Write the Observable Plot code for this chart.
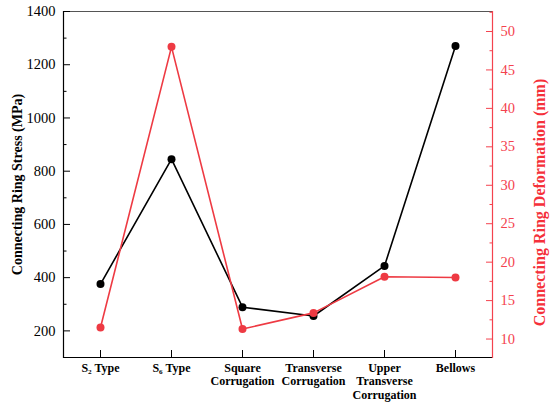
<!DOCTYPE html>
<html><head><meta charset="utf-8">
<script src="https://cdn.jsdelivr.net/npm/d3@7"></script>
<script src="https://cdn.jsdelivr.net/npm/@observablehq/plot@0.6"></script>
<style>body{margin:0;background:#fff}</style>
</head><body><div id="chart"></div>
<script>
const categories = ["S2 Type","S6 Type","Square Corrugation","Transverse Corrugation","Upper Transverse Corrugation","Bellows"];
const categoryLabels = ["S\u2082 Type","S\u2086 Type","Square\nCorrugation","Transverse\nCorrugation","Upper\nTransverse\nCorrugation","Bellows"];
const stress = [376, 845, 289, 256, 444, 1270];
const deformation = [11.5, 48.0, 11.3, 13.4, 18.1, 18.0];
const stressTicks = [200, 400, 600, 800, 1000, 1200, 1400];
const stressMinor = [300, 500, 700, 900, 1100, 1300];
const deformTicks = [10, 15, 20, 25, 30, 35, 40, 45, 50];
const deformMinor = [12.5, 17.5, 22.5, 27.5, 32.5, 37.5, 42.5, 47.5, 52.5];
const stressDomain = [100, 1400];
const deformDomain = [7.6, 52.6];

const RED = "#ee3a43";
const AXRED = "#f4424e";
const toY = v => stressDomain[0] + (v - deformDomain[0]) * (stressDomain[1] - stressDomain[0]) / (deformDomain[1] - deformDomain[0]);
const fromY = y => deformDomain[0] + (y - stressDomain[0]) * (deformDomain[1] - deformDomain[0]) / (stressDomain[1] - stressDomain[0]);

const data = categories.map((c, i) => ({category: c, stress: stress[i], deformation: deformation[i]}));
const labelOf = new Map(categories.map((c, i) => [c, categoryLabels[i]]));
const font = "'Liberation Serif', 'Times New Roman', serif";

const chart = Plot.plot({
  width: 550,
  height: 406,
  marginLeft: 63,
  marginRight: 58,
  marginTop: 11,
  marginBottom: 49,
  style: {fontFamily: font, background: "#fff"},
  x: {type: "point", domain: categories, padding: 0.5, label: null},
  y: {domain: stressDomain, label: null},
  marks: [
    Plot.ruleY([stressDomain[1]], {stroke: "#555", strokeWidth: 1}),
    Plot.ruleY([stressDomain[0]], {stroke: "#000", strokeWidth: 1.2}),
    Plot.frame({anchor: "left", stroke: "#000", strokeWidth: 1.2}),
    Plot.frame({anchor: "right", stroke: AXRED, strokeWidth: 1.2}),
    // left axis
    Plot.axisY(stressTicks, {anchor: "left", tickSize: 7, dx: 7, text: null, stroke: "#000", label: null}),
    Plot.axisY(stressMinor, {anchor: "left", tickSize: 3.5, dx: 3.5, text: null, stroke: "#000", label: null}),
    Plot.axisY(stressTicks, {anchor: "left", tickSize: 0, tickPadding: 8, fontSize: 14.5, fontFamily: font, fill: "#000", label: null,
      tickFormat: d => String(d)}),
    // right axis
    Plot.axisY(deformTicks.map(toY), {anchor: "right", tickSize: 7, dx: -7, text: null, stroke: AXRED, label: null}),
    Plot.axisY(deformMinor.map(toY), {anchor: "right", tickSize: 3.5, dx: -3.5, text: null, stroke: AXRED, label: null}),
    Plot.axisY(deformTicks.map(toY), {anchor: "right", tickSize: 0, tickPadding: 8, fontSize: 14.5, fontFamily: font, fill: AXRED, label: null,
      tickFormat: d => String(Math.round(fromY(d)))}),
    // x axis
    Plot.axisX({anchor: "bottom", tickSize: 7, dy: -7, text: null, stroke: "#000", label: null}),
    Plot.axisX({anchor: "bottom", tickSize: 0, tickPadding: 5, fontSize: 12, fontWeight: "bold", fontFamily: font, fill: "#000",
      lineHeight: 1.12, label: null, tickFormat: d => labelOf.get(d)}),
    // axis titles
    Plot.text(["Connecting Ring Stress (MPa)"], {frameAnchor: "left", textAnchor: "middle", dx: -46, rotate: -90, fontSize: 14, fontWeight: "bold", fontFamily: font, fill: "#000"}),
    Plot.text(["Connecting Ring Deformation (mm)"], {frameAnchor: "right", textAnchor: "middle", dx: 47, dy: 18, rotate: -90, fontSize: 16, fontWeight: "bold", fontFamily: font, fill: "#f5303a"}),
    // series
    Plot.line(data, {x: "category", y: "stress", stroke: "#000", strokeWidth: 1.6}),
    Plot.dot(data, {x: "category", y: "stress", r: 4, fill: "#000"}),
    Plot.line(data, {x: "category", y: d => toY(d.deformation), stroke: RED, strokeWidth: 1.6}),
    Plot.dot(data, {x: "category", y: d => toY(d.deformation), r: 4, fill: RED})
  ]
});
document.getElementById("chart").appendChild(chart);
</script>
</body></html>
